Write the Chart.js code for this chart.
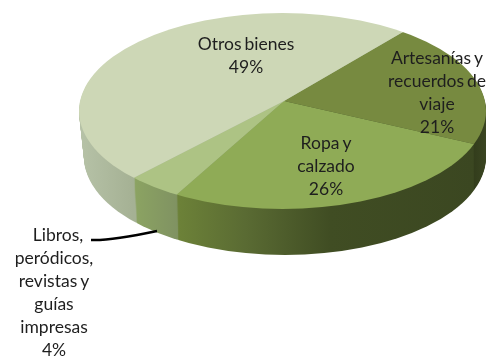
<!DOCTYPE html>
<html>
<head>
<meta charset="utf-8">
<script src="https://cdn.jsdelivr.net/npm/chart.js@4/dist/chart.umd.js"></script>
<style>
html, body { margin: 0; padding: 0; background: #fff; }
canvas { display: block; }
</style>
</head>
<body>
<canvas id="grafica" width="490" height="356"></canvas>
<script>
var categorias = ['Artesanías y recuerdos de viaje', 'Ropa y calzado', 'Libros, peródicos, revistas y guías impresas', 'Otros bienes'];
var valores = [21, 26, 4, 49];
var colores = ['#778A40', '#8FAB56', '#ADC384', '#CDD7B6'];
var lineasEtiqueta = [
    ['Artesanías y', 'recuerdos de', 'viaje'],
    ['Ropa y', 'calzado'],
    ['Libros,', 'peródicos,', 'revistas y', 'guías', 'impresas'],
    ['Otros bienes']
];

// Geometria del pastel en pantalla (el vertice queda por encima del centro de la elipse, por la perspectiva)
var vertice = { x: 284, y: 101 };
var elipse = { x: 282.5, y: 111, rx: 203.5, ry: 98 };
var fondo = { x: 285, rx: 201, ry: 98 };
var profundidad = 46;
var escalaX = 1.4, escalaY = 0.672;

// Degradados de la pared lateral, por porcion: [x en pantalla, color]
var paredes = [
    [[474, '#333D1C'], [486, '#3A4521']],
    [[180, '#6C8138'], [245, '#5A6B33'], [330, '#404D23'], [474, '#3B4721']],
    [[133, '#8CA462'], [180, '#7F9162']],
    [[80, '#B6C2A7'], [133, '#A5B194']]
];
var posEtiquetas = [
    { x: 437, y: 58 },
    { x: 326, y: 143 },
    { x: 54, y: 235 },
    { x: 246, y: 44 }
];

function transformar(ctx, arc, dy) {
    ctx.translate(vertice.x, vertice.y + dy);
    ctx.scale(escalaX, escalaY);
    ctx.translate(-arc.x, -arc.y);
}

var pastel3d = {
    id: 'pastel3d',
    beforeDatasetsDraw: function(chart) {
        var ctx = chart.ctx;
        var arcos = chart.getDatasetMeta(0).data;

        var gradientes = arcos.map(function(arc, i) {
            var stops = paredes[i];
            var x0 = arc.x + (stops[0][0] - vertice.x) / escalaX;
            var x1 = arc.x + (stops[stops.length - 1][0] - vertice.x) / escalaX;
            var g = ctx.createLinearGradient(x0, 0, x1, 0);
            stops.forEach(function(s) {
                g.addColorStop((s[0] - stops[0][0]) / (stops[stops.length - 1][0] - stops[0][0]), s[1]);
            });
            return g;
        });

        // Pared lateral: capas de las mismas porciones, de abajo hacia arriba
        for (var dy = profundidad; dy >= 1; dy--) {
            var t = dy / profundidad;
            ctx.save();
            ctx.beginPath();
            ctx.ellipse(elipse.x + (fondo.x - elipse.x) * t, elipse.y + dy, elipse.rx + (fondo.rx - elipse.rx) * t, elipse.ry + (fondo.ry - elipse.ry) * t, 0, 0, Math.PI * 2);
            ctx.clip();
            transformar(ctx, arcos[0], dy);
            arcos.forEach(function(arc, i) {
                var original = arc.options;
                arc.options = Object.assign({}, original, { backgroundColor: gradientes[i] });
                arc.draw(ctx);
                arc.options = original;
            });
            ctx.restore();
        }

        // La cara superior la dibuja la libreria dentro de esta transformacion
        ctx.save();
        ctx.beginPath();
        ctx.ellipse(elipse.x, elipse.y, elipse.rx, elipse.ry, 0, 0, Math.PI * 2);
        ctx.clip();
        transformar(ctx, arcos[0], 0);
    },
    afterDatasetsDraw: function(chart) {
        var ctx = chart.ctx;
        ctx.restore();

        // Linea guia de la etiqueta de libros
        ctx.save();
        ctx.strokeStyle = '#000';
        ctx.lineWidth = 2.5;
        ctx.beginPath();
        ctx.moveTo(91, 240);
        ctx.quadraticCurveTo(110, 241, 157, 231);
        ctx.stroke();

        ctx.fillStyle = '#1E1E1E';
        ctx.font = '17.5px Lato';
        ctx.wordSpacing = '-1.5px';
        ctx.textAlign = 'center';
        ctx.textBaseline = 'middle';
        lineasEtiqueta.forEach(function(lineas, i) {
            var p = posEtiquetas[i];
            var todas = lineas.concat([valores[i] + '%']);
            todas.forEach(function(txt, n) {
                // "Libros," va algo corrido a la derecha, como en el original
                var dx = (i === 2 && n === 0) ? 4 : 0;
                ctx.fillText(txt, p.x + dx, p.y + n * 23);
            });
        });
        ctx.restore();
    }
};

new Chart(document.getElementById('grafica').getContext('2d'), {
    type: 'pie',
    plugins: [pastel3d],
    data: {
        labels: categorias,
        datasets: [{
            data: valores,
            backgroundColor: colores,
            borderWidth: 0,
            clip: false
        }]
    },
    options: {
        responsive: false,
        animation: false,
        rotation: 39.6,
        layout: { padding: 0 },
        plugins: {
            legend: { display: false },
            tooltip: { enabled: false }
        }
    }
});
</script>
</body>
</html>
